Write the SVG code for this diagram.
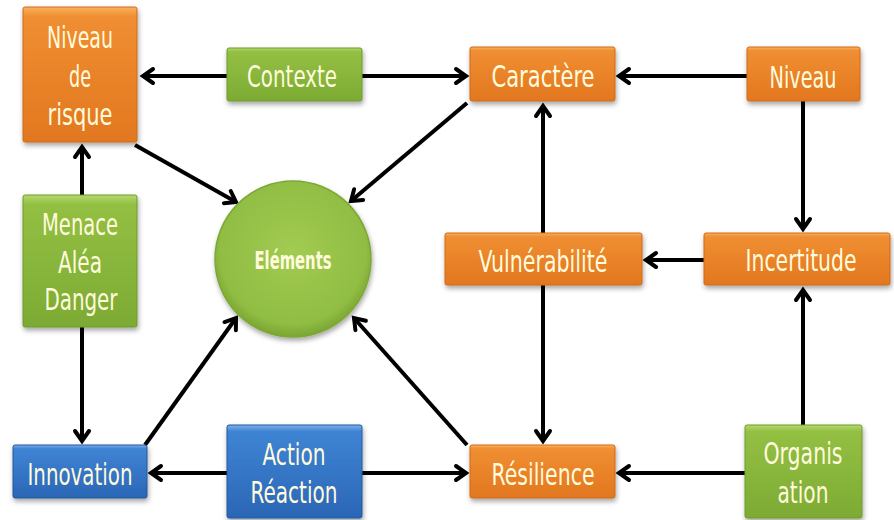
<svg xmlns="http://www.w3.org/2000/svg" width="894" height="520" viewBox="0 0 894 520">
<style>
.t{font-family:"Liberation Sans Narrow","DejaVu Sans Condensed","Liberation Sans",sans-serif;font-size:31px;fill:#FFFBDD;text-anchor:middle}
.e{font-size:24px;font-weight:bold}
.c{fill:none;stroke:#000;stroke-width:4;marker-end:url(#ah)}
.bx{stroke-width:1;filter:url(#sh)}
.or{fill:url(#gOr);stroke:#D06A18}
.gr{fill:url(#gGr);stroke:#6E9A2C}
.bl{fill:url(#gBl);stroke:#23589E}
</style>
<defs>
<linearGradient id="gOr" x1="0" y1="0" x2="0" y2="1">
<stop offset="0" stop-color="#F9B35E"/><stop offset="0.07" stop-color="#F08E32"/><stop offset="1" stop-color="#E2771F"/>
</linearGradient>
<linearGradient id="gGr" x1="0" y1="0" x2="0" y2="1">
<stop offset="0" stop-color="#B5D96E"/><stop offset="0.07" stop-color="#93C043"/><stop offset="1" stop-color="#7DAA33"/>
</linearGradient>
<linearGradient id="gBl" x1="0" y1="0" x2="0" y2="1">
<stop offset="0" stop-color="#7FB0EA"/><stop offset="0.07" stop-color="#3F84D4"/><stop offset="1" stop-color="#2B66B6"/>
</linearGradient>
<radialGradient id="gCi" cx="0.5" cy="0.45" r="0.55">
<stop offset="0" stop-color="#A2CB52"/><stop offset="0.85" stop-color="#90BD43"/><stop offset="1" stop-color="#7AA532"/>
</radialGradient>
<filter id="sh" x="-10%" y="-10%" width="125%" height="130%">
<feDropShadow dx="1" dy="3" stdDeviation="2.5" flood-color="#000" flood-opacity="0.35"/>
</filter>
<marker id="ah" markerUnits="userSpaceOnUse" markerWidth="20" markerHeight="20" viewBox="-14 -10 18 20" refX="0" refY="0" orient="auto">
<path d="M-10,-7 L0,0 L-10,7" fill="none" stroke="#000" stroke-width="4" stroke-linecap="round" stroke-linejoin="miter"/>
</marker>
</defs>
<rect width="894" height="520" fill="#FFFFFF"/>
<g id="connectors">
<line class="c" x1="227" y1="76" x2="143" y2="76"/>
<line class="c" x1="362" y1="76" x2="466" y2="76"/>
<line class="c" x1="747" y1="76" x2="619" y2="76"/>
<line class="c" x1="803" y1="101" x2="803" y2="229"/>
<line class="c" x1="704" y1="260" x2="646" y2="260"/>
<line class="c" x1="543" y1="233" x2="543" y2="106"/>
<line class="c" x1="543" y1="285" x2="543" y2="441"/>
<line class="c" x1="803" y1="425" x2="803" y2="290"/>
<line class="c" x1="745" y1="473" x2="619" y2="473"/>
<line class="c" x1="227" y1="473" x2="151" y2="473"/>
<line class="c" x1="362" y1="473" x2="466" y2="473"/>
<line class="c" x1="82" y1="195" x2="82" y2="147"/>
<line class="c" x1="82" y1="327" x2="82" y2="441"/>
<line class="c" x1="135" y1="145" x2="236" y2="202"/>
<line class="c" x1="467" y1="103" x2="351" y2="201"/>
<line class="c" x1="145" y1="445" x2="236" y2="318"/>
<line class="c" x1="467" y1="445" x2="354" y2="318"/>
</g>
<g id="niveau-risque">
<rect class="bx or" x="23" y="7" width="114" height="135" rx="2"/>
<text class="t" x="80" y="48" textLength="66" lengthAdjust="spacingAndGlyphs">Niveau</text>
<text class="t" x="80" y="87" textLength="22" lengthAdjust="spacingAndGlyphs">de</text>
<text class="t" x="80" y="125" textLength="65" lengthAdjust="spacingAndGlyphs">risque</text>
</g>
<g id="contexte">
<rect class="bx gr" x="227" y="48" width="135" height="53" rx="2"/>
<text class="t" x="292" y="87" textLength="90" lengthAdjust="spacingAndGlyphs">Contexte</text>
</g>
<g id="caractere">
<rect class="bx or" x="470" y="47" width="145" height="54" rx="2"/>
<text class="t" x="543" y="87" textLength="103" lengthAdjust="spacingAndGlyphs">Caractère</text>
</g>
<g id="niveau">
<rect class="bx or" x="747" y="47" width="113" height="54" rx="2"/>
<text class="t" x="803" y="88" textLength="67" lengthAdjust="spacingAndGlyphs">Niveau</text>
</g>
<g id="menace">
<rect class="bx gr" x="23" y="195" width="114" height="132" rx="2"/>
<text class="t" x="80" y="235" textLength="76" lengthAdjust="spacingAndGlyphs">Menace</text>
<text class="t" x="80" y="273" textLength="44" lengthAdjust="spacingAndGlyphs">Aléa</text>
<text class="t" x="81" y="310" textLength="73" lengthAdjust="spacingAndGlyphs">Danger</text>
</g>
<g id="elements">
<circle cx="293" cy="259" r="78" fill="url(#gCi)" stroke="#7DA834" stroke-width="1.5" filter="url(#sh)"/>
<text class="t e" x="293" y="269" textLength="77" lengthAdjust="spacingAndGlyphs">Eléments</text>
</g>
<g id="vulnerabilite">
<rect class="bx or" x="445" y="233" width="197" height="52" rx="2"/>
<text class="t" x="543" y="272" textLength="129" lengthAdjust="spacingAndGlyphs">Vulnérabilité</text>
</g>
<g id="incertitude">
<rect class="bx or" x="704" y="233" width="186" height="52" rx="2"/>
<text class="t" x="801" y="271" font-size="28" textLength="111" lengthAdjust="spacingAndGlyphs">Incertitude</text>
</g>
<g id="innovation">
<rect class="bx bl" x="13" y="445" width="134" height="53" rx="2"/>
<text class="t" x="80" y="485" textLength="105" lengthAdjust="spacingAndGlyphs">Innovation</text>
</g>
<g id="action-reaction">
<rect class="bx bl" x="227" y="425" width="135" height="93" rx="2"/>
<text class="t" x="294" y="465" textLength="63" lengthAdjust="spacingAndGlyphs">Action</text>
<text class="t" x="294" y="503" textLength="87" lengthAdjust="spacingAndGlyphs">Réaction</text>
</g>
<g id="resilience">
<rect class="bx or" x="470" y="445" width="145" height="53" rx="2"/>
<text class="t" x="543" y="485" textLength="103" lengthAdjust="spacingAndGlyphs">Résilience</text>
</g>
<g id="organisation">
<rect class="bx gr" x="745" y="425" width="117" height="93" rx="2"/>
<text class="t" x="803" y="464" textLength="79" lengthAdjust="spacingAndGlyphs">Organis</text>
<text class="t" x="803" y="503" textLength="51" lengthAdjust="spacingAndGlyphs">ation</text>
</g>
</svg>
